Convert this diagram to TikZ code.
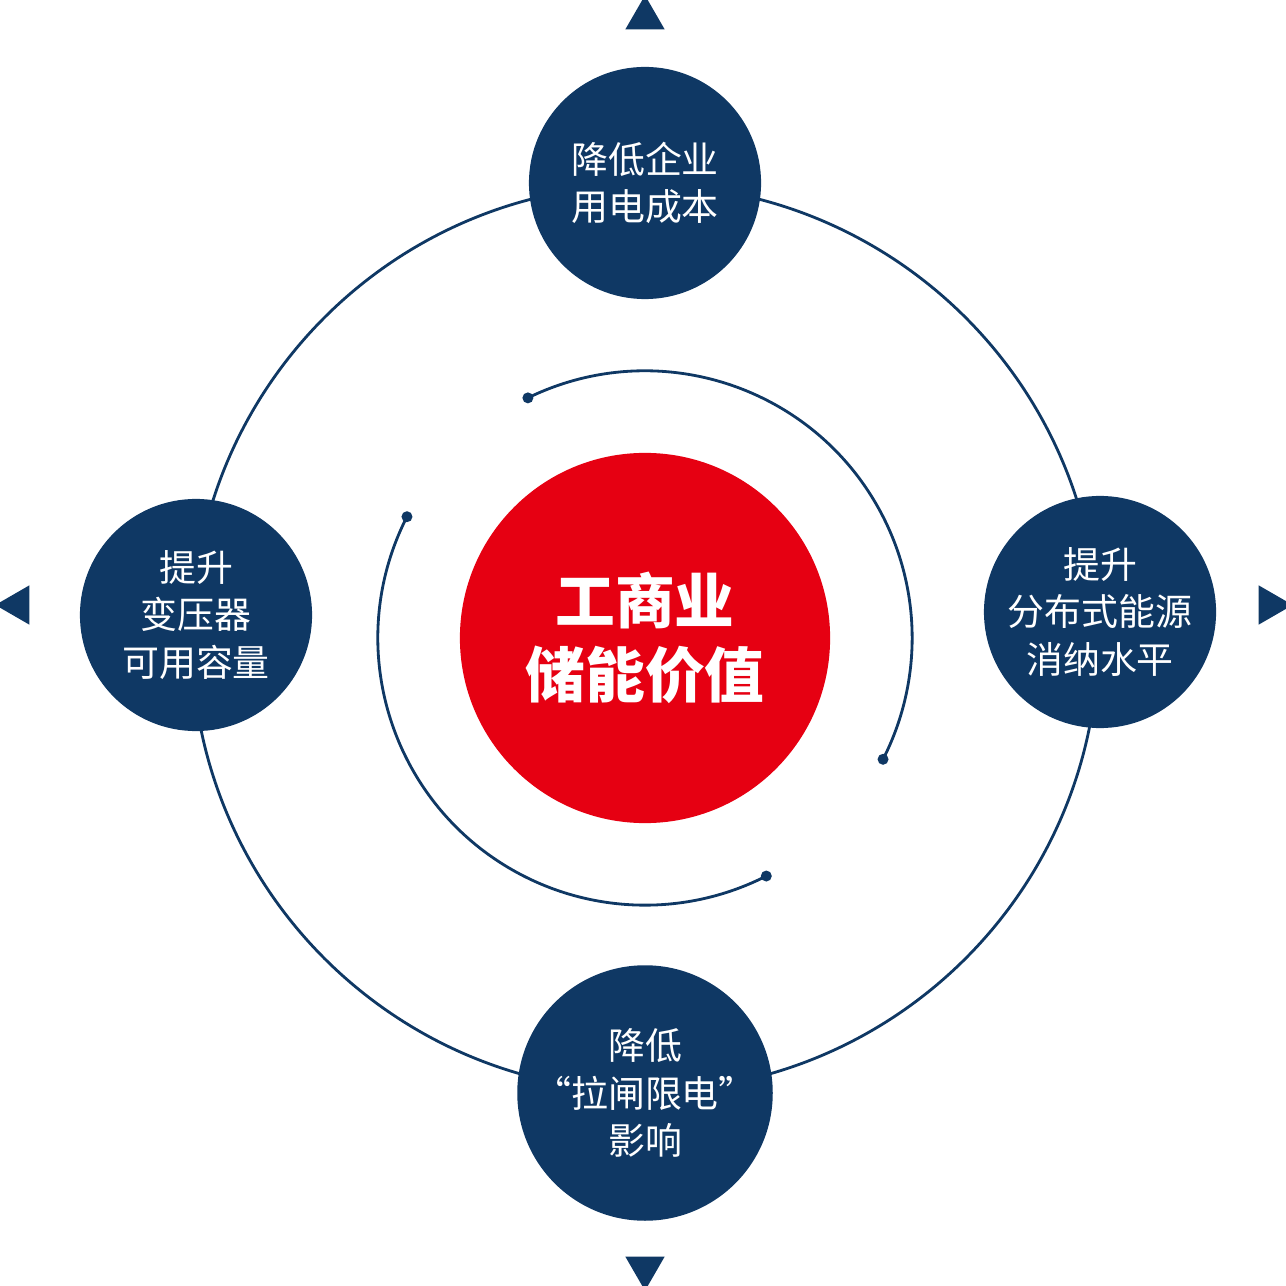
\documentclass[tikz,border=0pt]{standalone}
\usepackage{fontspec}
\setmainfont{Noto Sans CJK SC}
\usetikzlibrary{calc,shapes.geometric}
\definecolor{navy}{HTML}{0F3864}
\definecolor{brandred}{HTML}{E60012}
\tikzset{
  bubble/.style={circle,fill=navy,minimum size=2.32cm,inner sep=0pt,text=white,
    align=center,font=\fontsize{10.5pt}{13.5pt}\selectfont},
  marker/.style={fill=navy,isosceles triangle,isosceles triangle apex angle=60,
    minimum height=0.34cm,inner sep=0pt},
  orbit/.style={draw=navy,line width=0.8pt}
}
\begin{document}
\begin{tikzpicture}[x=0.01cm,y=-0.01cm]
  \useasboundingbox (0,0) rectangle (1286,1286);
  \coordinate (c) at (645,638);
  % outer ring
  \draw[orbit] (c) circle (4.53cm);
  % inner arcs
  \draw[orbit] ($(c)+(116:2.67cm)$) coordinate (a1) arc (116:-27:2.67cm) coordinate (a2);
  \draw[orbit] ($(c)+(153:2.67cm)$) coordinate (b1) arc (153:297:2.67cm) coordinate (b2);
  \foreach \p in {a1,a2,b1,b2} \fill[navy] (\p) circle (0.055cm);
  % centre
  \node[circle,fill=brandred,minimum size=3.7cm,inner sep=0pt,text=white,align=center,
    font=\fontsize{17pt}{21pt}\selectfont\bfseries] (core) at (c) {工商业\\储能价值};
  % outer bubbles
  \node[bubble] (top) at (645,183) {降低企业\\用电成本};
  \node[bubble] (left) at (196,615) {提升\\变压器\\可用容量};
  \node[bubble] (right) at (1100,612) {提升\\分布式能源\\消纳水平};
  \node[bubble] (bottom) at (645,1093) {降低\\“拉闸限电”\\影响};
  % markers
  \node[marker,rotate=90] (mt) at (645,18) {};
  \node[marker,rotate=-90] (mb) at (645,1268) {};
  \node[marker,rotate=180] (ml) at (18,605) {};
  \node[marker] (mr) at (1270,605) {};
\end{tikzpicture}
\end{document}
